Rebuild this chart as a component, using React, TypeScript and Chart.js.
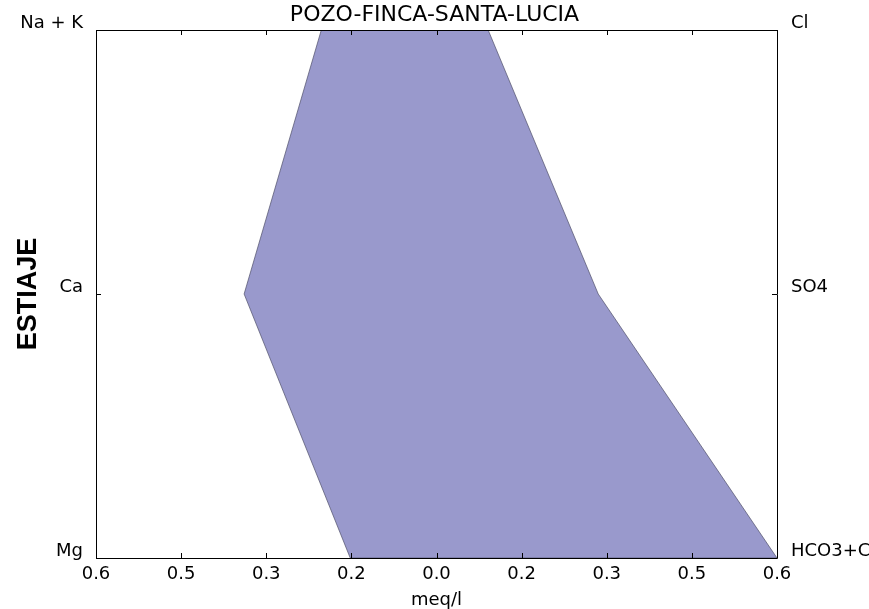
import React, { useEffect, useRef } from 'react';
import { Chart, registerables } from 'chart.js';

Chart.register(...registerables);

const chartTitle = 'POZO-FINCA-SANTA-LUCIA';
const seasonLabel = 'ESTIAJE';
const xAxisTitle = 'meq/l';

// levels: 0 = bottom, 1 = middle, 2 = top
const levels = [0, 1, 2];
const cationLabels = ['Mg', 'Ca', 'Na + K'];
const anionLabels = ['HCO3+CO3', 'SO4', 'Cl'];
const cationValues = [0.152, 0.339, 0.203]; // Mg, Ca, Na + K (meq/l)
const anionValues = [0.6, 0.285, 0.091]; // HCO3+CO3, SO4, Cl (meq/l)

const xTickValues = [-0.6, -0.45, -0.3, -0.15, 0, 0.15, 0.3, 0.45, 0.6];
const xTickLabels = ['0.6', '0.5', '0.3', '0.2', '0.0', '0.2', '0.3', '0.5', '0.6'];

const FONT = "'DejaVu Sans', sans-serif";

const framePlugin = {
  id: 'frameTicks',
  afterDatasetsDraw(chart: any) {
    const { ctx, chartArea } = chart;
    const { left, right, top, bottom } = chartArea;
    const xs = chart.scales.x;
    const ys = chart.scales.y;
    const L = 5;
    ctx.save();
    ctx.strokeStyle = '#000';
    ctx.lineWidth = 1;
    ctx.beginPath();
    ctx.rect(Math.round(left) + 0.5, Math.round(top) + 0.5, Math.round(right - left), Math.round(bottom - top));
    ctx.stroke();
    ctx.beginPath();
    xTickValues.forEach((v) => {
      const px = Math.round(xs.getPixelForValue(v)) + 0.5;
      ctx.moveTo(px, bottom);
      ctx.lineTo(px, bottom - L);
      ctx.moveTo(px, top);
      ctx.lineTo(px, top + L);
    });
    levels.forEach((v) => {
      const py = Math.round(ys.getPixelForValue(v)) + 0.5;
      ctx.moveTo(left, py);
      ctx.lineTo(left + L, py);
      ctx.moveTo(right, py);
      ctx.lineTo(right - L, py);
    });
    ctx.stroke();
    ctx.restore();
  },
};

export default function App() {
  const ref = useRef<HTMLCanvasElement | null>(null);

  useEffect(() => {
    if (!ref.current) return;
    const leftSide = [...levels].reverse().map((l) => ({ x: -cationValues[l], y: l }));
    const rightSide = levels.map((l) => ({ x: anionValues[l], y: l }));
    const points = [...leftSide, ...rightSide, leftSide[0]];

    const yCommon = {
      type: 'linear',
      min: 0,
      max: 2,
      grid: { display: false, drawTicks: false },
      border: { display: false },
    };

    const chart = new Chart(ref.current, {
      type: 'scatter',
      data: {
        datasets: [
          {
            data: points,
            showLine: true,
            fill: 'shape',
            backgroundColor: '#9999cc',
            borderColor: 'rgba(80,80,105,0.7)',
            borderWidth: 1,
            pointRadius: 0,
            tension: 0,
          },
        ],
      },
      options: {
        responsive: false,
        animation: false,
        layout: { padding: 0 },
        plugins: {
          legend: { display: false },
          tooltip: { enabled: false },
          title: {
            display: true,
            text: chartTitle,
            color: '#000',
            font: { family: FONT, size: 22, weight: 'normal', lineHeight: 1.2 },
            padding: { top: 2, bottom: 1.6 },
          },
        },
        scales: {
          x: {
            type: 'linear',
            position: 'bottom',
            min: -0.6,
            max: 0.6,
            afterBuildTicks: (s: any) => {
              s.ticks = xTickValues.map((v) => ({ value: v }));
            },
            afterFit: (s: any) => {
              s.height = 51;
              s.paddingLeft = 0;
              s.paddingRight = 0;
            },
            ticks: {
              autoSkip: false,
              maxRotation: 0,
              color: '#000',
              padding: 6,
              font: { family: FONT, size: 18 },
              callback: (_v: any, i: number) => xTickLabels[i],
            },
            grid: { display: false, drawTicks: false },
            border: { display: false },
            title: {
              display: true,
              text: xAxisTitle,
              color: '#000',
              font: { family: FONT, size: 18, lineHeight: 1.0 },
              padding: 0,
            },
          },
          y: {
            ...yCommon,
            position: 'left',
            afterBuildTicks: (s: any) => {
              s.ticks = levels.map((v) => ({ value: v }));
            },
            afterFit: (s: any) => {
              s.width = 96;
              s.paddingTop = 0;
              s.paddingBottom = 0;
            },
            ticks: {
              color: '#000',
              padding: 13,
              labelOffset: -7,
              font: { family: FONT, size: 18 },
              callback: (_v: any, i: number) => cationLabels[i],
            },
            title: {
              display: true,
              text: seasonLabel,
              color: '#000',
              font: { family: "'Liberation Sans', Arial, sans-serif", size: 27, weight: 'bold', lineHeight: 1.2 },
              padding: { top: 12, bottom: 0 },
            },
          },
          y2: {
            ...yCommon,
            position: 'right',
            afterBuildTicks: (s: any) => {
              s.ticks = levels.map((v) => ({ value: v }));
            },
            afterFit: (s: any) => {
              s.width = 92;
              s.paddingTop = 0;
              s.paddingBottom = 0;
            },
            ticks: {
              color: '#000',
              padding: 14,
              labelOffset: -7,
              font: { family: FONT, size: 18 },
              callback: (_v: any, i: number) => anionLabels[i],
            },
          },
        },
      },
      plugins: [framePlugin],
    } as any);

    return () => chart.destroy();
  }, []);

  return (
    <div style={{ position: 'fixed', left: 0, top: 0, width: 869, height: 609, background: '#fff' }}>
      <canvas ref={ref} width={869} height={609} style={{ display: 'block' }} />
    </div>
  );
}
